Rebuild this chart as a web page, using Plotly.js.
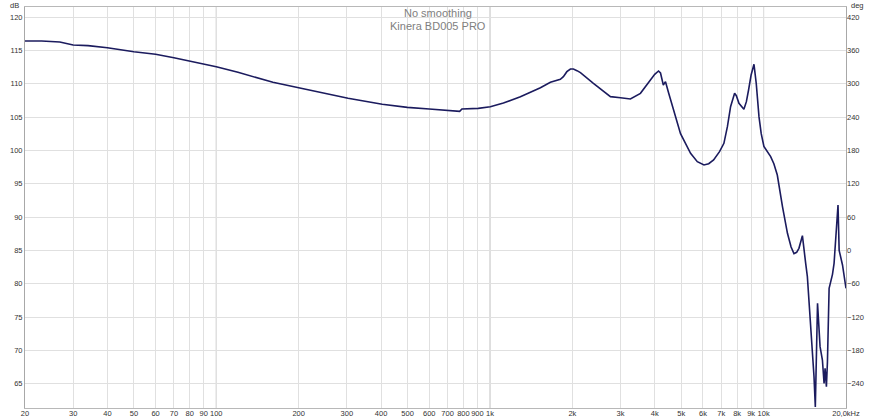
<!DOCTYPE html>
<html>
<head>
<meta charset="utf-8">
<script src="https://cdn.plot.ly/plotly-3.0.1.min.js"></script>
<style>html,body{margin:0;padding:0;background:#fff;}#chart{width:877px;height:419px;}</style>
</head>
<body>
<div id="chart"></div>
<script>
// Frequency response (Hz) and SPL (dB)
var freqHz = [20, 23, 26.8, 30, 34, 40, 50, 60, 70, 80, 90, 100, 120, 136, 161, 200, 246, 303, 404, 499, 600, 705, 775, 790, 906, 1003, 1120, 1292, 1529, 1663, 1808, 1855, 1910, 1968, 2018, 2080, 2141, 2388, 2756, 3000, 3260, 3547, 3857, 4000, 4130, 4200, 4300, 4380, 4500, 4690, 4970, 5409, 5724, 6055, 6300, 6565, 6900, 7160, 7373, 7573, 7834, 7950, 8126, 8471, 8650, 8810, 9000, 9222, 9400, 9617, 9800, 10025, 10300, 10610, 10900, 11220, 11720, 12220, 12600, 12910, 13200, 13460, 13860, 14050, 14250, 14450, 15070, 15280, 15450, 15740, 16080, 16400, 16630, 16770, 16960, 17110, 17350, 17850, 18090, 18700, 18880, 19420, 20000];
var splDb = [116.4, 116.4, 116.25, 115.8, 115.7, 115.4, 114.8, 114.4, 113.9, 113.4, 112.9, 112.55, 111.7, 111.05, 110.2, 109.4, 108.55, 107.8, 106.9, 106.45, 106.2, 106.05, 105.85, 106.2, 106.3, 106.55, 107.1, 108.05, 109.4, 110.2, 110.65, 111.05, 111.8, 112.2, 112.2, 111.95, 111.65, 110.05, 108.05, 107.9, 107.7, 108.55, 110.55, 111.4, 111.9, 111.6, 109.8, 110.3, 108.55, 105.9, 102.5, 99.55, 98.3, 97.8, 98.0, 98.55, 99.8, 101.05, 103.55, 106.55, 108.55, 108.2, 107.05, 106.15, 107.3, 109.05, 111.3, 112.9, 110.0, 105.05, 102.5, 100.6, 99.8, 99.05, 98.0, 96.3, 91.55, 87.55, 85.5, 84.5, 84.7, 85.3, 87.2, 85.5, 83.0, 81.05, 70.55, 66.05, 61.5, 77.05, 70.55, 68.55, 65.05, 67.3, 64.55, 68.3, 79.3, 81.4, 83.05, 91.8, 85.0, 82.8, 79.3];

var xTickVals = [20, 30, 40, 50, 60, 70, 80, 90, 100, 200, 300, 400, 500, 600, 700, 800, 900, 1000, 2000, 3000, 4000, 5000, 6000, 7000, 8000, 9000, 10000, 20000];
var xTickText = ["20", "30", "40", "50", "60", "70", "80", "90", "100", "200", "300", "400", "500", "600", "700", "800", "900", "1k", "2k", "3k", "4k", "5k", "6k", "7k", "8k", "9k", "10k", "20,0kHz"];
var dbTicks = [65, 70, 75, 80, 85, 90, 95, 100, 105, 110, 115, 120];
var degTicks = [-240, -180, -120, -60, 0, 60, 120, 180, 240, 300, 360, 420];
var decadeLines = [100, 1000, 10000];
var titleLines = ["No smoothing", "Kinera BD005 PRO"];

var dbRange = [61.35, 121.5];
var degRange = [dbRange[0] * 12 - 1020, dbRange[1] * 12 - 1020];

var tickFont = {family: "Liberation Sans, Arial, sans-serif", size: 7.5, color: "#333333"};
var titleFont = {family: "Liberation Sans, Arial, sans-serif", size: 11, color: "#808080"};

var traces = [
  {x: freqHz, y: splDb, type: "scatter", mode: "lines", line: {color: "#1b1b5e", width: 1.6}, hoverinfo: "skip", showlegend: false},
  {x: [], y: [], type: "scatter", mode: "lines", yaxis: "y2", hoverinfo: "skip", showlegend: false}
];

var shapes = decadeLines.map(function (f) {
  return {type: "line", xref: "x", yref: "paper", x0: f, x1: f, y0: 0, y1: 1, layer: "below", line: {color: "#b4b4b4", width: 1}};
});

var layout = {
  width: 877, height: 419,
  margin: {l: 25, r: 31, t: 7, b: 11, pad: 0},
  paper_bgcolor: "#ffffff", plot_bgcolor: "#ffffff",
  showlegend: false,
  font: {family: "Liberation Sans, Arial, sans-serif"},
  xaxis: {
    type: "log", range: [Math.log10(20), Math.log10(20000)],
    tickmode: "array", tickvals: xTickVals, ticktext: xTickText, tickangle: 0,
    ticklabelstandoff: -2,
    showgrid: true, gridcolor: "#e0e0e0", gridwidth: 1,
    showline: true, linecolor: "#b8b8b8", linewidth: 1, mirror: true,
    ticks: "", tickfont: tickFont, zeroline: false, fixedrange: true
  },
  yaxis: {
    range: dbRange, tickmode: "array", tickvals: dbTicks,
    showgrid: true, gridcolor: "#e0e0e0", gridwidth: 1,
    showline: true, linecolor: "#a8a8a8", linewidth: 1, mirror: true,
    ticks: "", tickfont: tickFont, zeroline: false, fixedrange: true
  },
  yaxis2: {
    overlaying: "y", side: "right", anchor: "x",
    range: degRange, tickmode: "array", tickvals: degTicks,
    showgrid: false, showline: false, ticks: "", tickfont: tickFont, zeroline: false, fixedrange: true
  },
  shapes: shapes,
  annotations: [
    {text: titleLines[0], xref: "paper", yref: "paper", x: 0.503, y: (408 - 13) / 401, showarrow: false, xanchor: "center", yanchor: "middle", borderpad: 0, font: titleFont},
    {text: titleLines[1], xref: "paper", yref: "paper", x: 0.503, y: (408 - 26) / 401, showarrow: false, xanchor: "center", yanchor: "middle", borderpad: 0, font: titleFont},
    {text: "dB", xref: "paper", yref: "paper", x: (14 - 25) / 821, y: (408 - 5) / 401, showarrow: false, xanchor: "center", yanchor: "middle", borderpad: 0, font: tickFont},
    {text: "deg", xref: "paper", yref: "paper", x: (858 - 25) / 821, y: (408 - 5) / 401, showarrow: false, xanchor: "center", yanchor: "middle", borderpad: 0, font: tickFont}
  ]
};

Plotly.newPlot("chart", traces, layout, {displayModeBar: false, staticPlot: true});
</script>
</body>
</html>
